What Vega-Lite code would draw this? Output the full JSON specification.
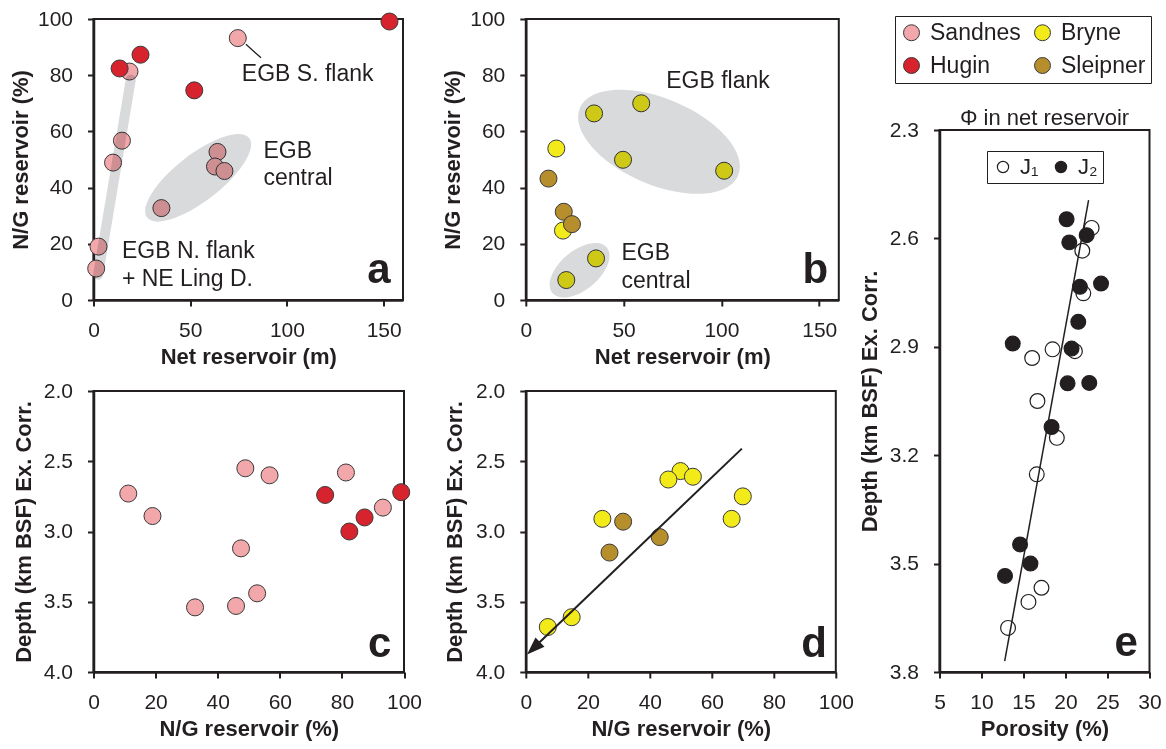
{
 "$schema": "https://vega.github.io/schema/vega-lite/v6.json",
 "padding": {"left": 7.5, "top": 7, "right": 5, "bottom": 5},
 "datasets": {
  "wells": [
   {"group":"Sandnes","net":74.6,"ng":93.2,"depth":2.83},
   {"group":"Sandnes","net":18.6,"ng":81.3,"depth":2.58},
   {"group":"Sandnes","net":14.7,"ng":56.7,"depth":2.60},
   {"group":"Sandnes","net":10.1,"ng":48.9,"depth":2.55},
   {"group":"Sandnes","net":2.6,"ng":19.0,"depth":2.89},
   {"group":"Sandnes","net":1.4,"ng":11.2,"depth":2.73},
   {"group":"Sandnes","net":64.1,"ng":52.7,"depth":3.44},
   {"group":"Sandnes","net":62.8,"ng":47.5,"depth":3.12},
   {"group":"Sandnes","net":67.7,"ng":45.9,"depth":3.53},
   {"group":"Sandnes","net":35.1,"ng":32.7,"depth":3.54},
   {"group":"Hugin","net":153,"ng":99.1,"depth":2.72},
   {"group":"Hugin","net":24.3,"ng":87.3,"depth":2.90},
   {"group":"Hugin","net":13.5,"ng":82.4,"depth":3.00},
   {"group":"Hugin","net":52.1,"ng":74.6,"depth":2.74},
   {"group":"Bryne","net":59.0,"ng":70.0,"depth":2.75},
   {"group":"Bryne","net":34.9,"ng":66.4,"depth":2.91},
   {"group":"Bryne","net":49.7,"ng":49.9,"depth":2.57},
   {"group":"Bryne","net":101.4,"ng":46.0,"depth":2.63},
   {"group":"Bryne","net":15.6,"ng":53.9,"depth":2.61},
   {"group":"Bryne","net":19.0,"ng":24.7,"depth":2.91},
   {"group":"Bryne","net":35.9,"ng":14.8,"depth":3.61},
   {"group":"Bryne","net":20.7,"ng":7.1,"depth":3.68},
   {"group":"Sleipner","net":11.6,"ng":43.2,"depth":3.04},
   {"group":"Sleipner","net":19.4,"ng":31.4,"depth":2.93},
   {"group":"Sleipner","net":23.6,"ng":27.0,"depth":3.15}
  ],
  "porosity": [
   {"unit":"J1","phi":23.11,"depth":2.571},
   {"unit":"J1","phi":22.0,"depth":2.634},
   {"unit":"J1","phi":22.12,"depth":2.752},
   {"unit":"J1","phi":21.12,"depth":2.912},
   {"unit":"J1","phi":18.46,"depth":2.907},
   {"unit":"J1","phi":16.03,"depth":2.931},
   {"unit":"J1","phi":16.66,"depth":3.050},
   {"unit":"J1","phi":18.97,"depth":3.152},
   {"unit":"J1","phi":16.58,"depth":3.253},
   {"unit":"J1","phi":17.14,"depth":3.567},
   {"unit":"J1","phi":15.59,"depth":3.606},
   {"unit":"J1","phi":13.16,"depth":3.678},
   {"unit":"J2","phi":20.13,"depth":2.547},
   {"unit":"J2","phi":20.45,"depth":2.611},
   {"unit":"J2","phi":22.52,"depth":2.591},
   {"unit":"J2","phi":21.72,"depth":2.734},
   {"unit":"J2","phi":24.23,"depth":2.725},
   {"unit":"J2","phi":21.52,"depth":2.831},
   {"unit":"J2","phi":13.72,"depth":2.891},
   {"unit":"J2","phi":20.72,"depth":2.905},
   {"unit":"J2","phi":20.25,"depth":3.001},
   {"unit":"J2","phi":22.83,"depth":3.000},
   {"unit":"J2","phi":18.34,"depth":3.122},
   {"unit":"J2","phi":14.59,"depth":3.447},
   {"unit":"J2","phi":15.83,"depth":3.500},
   {"unit":"J2","phi":12.80,"depth":3.534}
  ]
 },
 "spacing": 2,
 "hconcat": [
  {
   "spacing": 16.3,
   "hconcat": [
    {
     "spacing": 11,
     "vconcat": [
      {
       "width": 309.5, "height": 281,
       "data": {"name": "wells"},
       "encoding": {
        "x": {"field": "net", "type": "quantitative", "scale": {"domain": [0, 160], "nice": false, "zero": false}, "axis": {"values": [0, 50, 100, 150], "title": "Net reservoir (m)"}},
        "y": {"field": "ng", "type": "quantitative", "scale": {"domain": [0, 100], "nice": false, "zero": false}, "axis": {"values": [0, 20, 40, 60, 80, 100], "title": "N/G reservoir (%)", "titlePadding": 5}}
       },
       "layer": [
        {
         "transform": [{"filter": "datum.group === 'Sandnes' || datum.group === 'Hugin'"}],
         "mark": {"type": "point", "filled": true, "size": 290, "opacity": 1, "stroke": "#3a3a3a", "strokeWidth": 1},
         "encoding": {
          "color": {"field": "group", "type": "nominal",
           "scale": {"domain": ["Sandnes", "Hugin", "Bryne", "Sleipner"], "range": ["#F2A7AA", "#D6232E", "#F3EA1A", "#B68E2C"]},
           "legend": {"orient": "none", "legendX": 801.5, "legendY": -3, "columns": 2, "title": null, "strokeColor": "#231F20", "fillColor": "white", "padding": 5, "symbolType": "circle", "symbolSize": 255, "symbolStrokeWidth": 1, "symbolStrokeColor": "#3a3a3a", "symbolOpacity": 1, "labelFont": "Liberation Sans", "labelFontSize": 23, "labelColor": "#231F20", "labelOffset": 7, "rowPadding": 9, "columnPadding": 10}}
         }
        },
        {
         "data": {"values": [{"net": 2.4, "ng": 9, "net2": 19.3, "ng2": 78.5}]},
         "mark": {"type": "rule", "strokeWidth": 10, "strokeCap": "round", "color": "#D9DADC", "blend": "multiply"},
         "encoding": {"x2": {"field": "net2"}, "y2": {"field": "ng2"}}
        },
        {
         "data": {"values": [{"net": 54.1, "ng": 43.5}]},
         "mark": {"type": "point", "shape": "M-1,0A1,0.36,0,1,1,1,0A1,0.36,0,1,1,-1,0Z", "size": 16744, "angle": -38, "filled": true, "color": "#D9DADC", "opacity": 1, "blend": "multiply"}
        },
        {
         "data": {"values": [{"net": 78.8, "ng": 91.0, "net2": 86.6, "ng2": 86.2}]},
         "mark": {"type": "rule", "color": "#231F20", "strokeWidth": 1.3},
         "encoding": {"x2": {"field": "net2"}, "y2": {"field": "ng2"}}
        },
        {
         "data": {"values": [
          {"net": 76.7, "ng": 77.9, "label": "EGB S. flank"},
          {"net": 87.9, "ng": 50.6, "label": "EGB"},
          {"net": 87.9, "ng": 40.8, "label": "central"},
          {"net": 14.7, "ng": 15.1, "label": "EGB N. flank"},
          {"net": 14.7, "ng": 5.0, "label": "+ NE Ling D."}
         ]},
         "mark": {"type": "text", "align": "left", "baseline": "alphabetic", "fontSize": 23},
         "encoding": {"text": {"field": "label"}}
        },
        {
         "data": {"values": [{"net": 153.6, "ng": 6.2, "label": "a"}]},
         "mark": {"type": "text", "align": "right", "baseline": "alphabetic", "fontSize": 42, "fontWeight": "bold"},
         "encoding": {"text": {"field": "label"}}
        }
       ]
      },
      {
       "width": 310.5, "height": 281,
       "data": {"name": "wells"},
       "encoding": {
        "x": {"field": "ng", "type": "quantitative", "scale": {"domain": [0, 100], "nice": false, "zero": false}, "axis": {"values": [0, 20, 40, 60, 80, 100], "title": "N/G reservoir (%)"}},
        "y": {"field": "depth", "type": "quantitative", "scale": {"domain": [2, 4], "nice": false, "zero": false, "reverse": true}, "axis": {"values": [2, 2.5, 3, 3.5, 4], "format": ".1f", "title": "Depth (km BSF) Ex. Corr.", "titlePadding": 8}}
       },
       "layer": [
        {
         "transform": [{"filter": "datum.group === 'Sandnes' || datum.group === 'Hugin'"}],
         "mark": {"type": "point", "filled": true, "size": 290, "opacity": 1, "stroke": "#3a3a3a", "strokeWidth": 1},
         "encoding": {"color": {"field": "group", "type": "nominal", "legend": null}}
        },
        {
         "data": {"values": [{"ng": 95.9, "depth": 3.89, "label": "c"}]},
         "mark": {"type": "text", "align": "right", "baseline": "alphabetic", "fontSize": 42, "fontWeight": "bold"},
         "encoding": {"text": {"field": "label"}}
        }
       ]
      }
     ]
    },
    {
     "spacing": 11,
     "vconcat": [
      {
       "width": 313, "height": 281,
       "data": {"name": "wells"},
       "encoding": {
        "x": {"field": "net", "type": "quantitative", "scale": {"domain": [0, 160], "nice": false, "zero": false}, "axis": {"values": [0, 50, 100, 150], "title": "Net reservoir (m)"}},
        "y": {"field": "ng", "type": "quantitative", "scale": {"domain": [0, 100], "nice": false, "zero": false}, "axis": {"values": [0, 20, 40, 60, 80, 100], "title": "N/G reservoir (%)", "titlePadding": 5}}
       },
       "layer": [
        {
         "transform": [{"filter": "datum.group === 'Bryne' || datum.group === 'Sleipner'"}],
         "mark": {"type": "point", "filled": true, "size": 290, "opacity": 1, "stroke": "#3a3a3a", "strokeWidth": 1},
         "encoding": {"color": {"field": "group", "type": "nominal", "legend": null}}
        },
        {
         "data": {"values": [{"net": 68.1, "ng": 56.3}]},
         "mark": {"type": "point", "shape": "M-1,0A1,0.5,0,1,1,1,0A1,0.5,0,1,1,-1,0Z", "size": 29584, "angle": 23, "filled": true, "color": "#D9DADC", "opacity": 1, "blend": "multiply"}
        },
        {
         "data": {"values": [{"net": 27.5, "ng": 10.6}]},
         "mark": {"type": "point", "shape": "M-1,0A1,0.55,0,1,1,1,0A1,0.55,0,1,1,-1,0Z", "size": 5041, "angle": -40, "filled": true, "color": "#D9DADC", "opacity": 1, "blend": "multiply"}
        },
        {
         "data": {"values": [
          {"net": 71.8, "ng": 75.6, "label": "EGB flank"},
          {"net": 48.9, "ng": 14.1, "label": "EGB"},
          {"net": 48.9, "ng": 4.4, "label": "central"}
         ]},
         "mark": {"type": "text", "align": "left", "baseline": "alphabetic", "fontSize": 23},
         "encoding": {"text": {"field": "label"}}
        },
        {
         "data": {"values": [{"net": 154.6, "ng": 6.2, "label": "b"}]},
         "mark": {"type": "text", "align": "right", "baseline": "alphabetic", "fontSize": 42, "fontWeight": "bold"},
         "encoding": {"text": {"field": "label"}}
        }
       ]
      },
      {
       "width": 310, "height": 281,
       "data": {"name": "wells"},
       "encoding": {
        "x": {"field": "ng", "type": "quantitative", "scale": {"domain": [0, 100], "nice": false, "zero": false}, "axis": {"values": [0, 20, 40, 60, 80, 100], "title": "N/G reservoir (%)"}},
        "y": {"field": "depth", "type": "quantitative", "scale": {"domain": [2, 4], "nice": false, "zero": false, "reverse": true}, "axis": {"values": [2, 2.5, 3, 3.5, 4], "format": ".1f", "title": "Depth (km BSF) Ex. Corr.", "titlePadding": 9.5}}
       },
       "layer": [
        {
         "transform": [{"filter": "datum.group === 'Bryne' || datum.group === 'Sleipner'"}],
         "mark": {"type": "point", "filled": true, "size": 290, "opacity": 1, "stroke": "#3a3a3a", "strokeWidth": 1},
         "encoding": {"color": {"field": "group", "type": "nominal", "legend": null}}
        },
        {
         "data": {"values": [{"ng": 69.7, "depth": 2.41, "ng2": 1.5, "depth2": 3.85}]},
         "mark": {"type": "rule", "color": "#231F20", "strokeWidth": 2},
         "encoding": {"x2": {"field": "ng2"}, "y2": {"field": "depth2"}}
        },
        {
         "data": {"values": [{"ng": 0.4, "depth": 3.876}]},
         "mark": {"type": "point", "shape": "M0,0L-0.36,1L0.36,1Z", "size": 1296, "angle": 226, "filled": true, "color": "#231F20", "opacity": 1}
        },
        {
         "data": {"values": [{"ng": 97.1, "depth": 3.895, "label": "d"}]},
         "mark": {"type": "text", "align": "right", "baseline": "alphabetic", "fontSize": 42, "fontWeight": "bold"},
         "encoding": {"text": {"field": "label"}}
        }
       ]
      }
     ]
    }
   ]
  },
  {
   "spacing": 27,
   "vconcat": [
    {
     "width": 10, "height": 60,
     "data": {"values": []},
     "mark": "point",
     "view": {"stroke": null}
    },
    {
     "width": 210, "height": 542,
     "title": {"text": "Φ in net reservoir", "anchor": "middle", "fontSize": 22, "fontWeight": "normal", "offset": -11},
     "data": {"name": "porosity"},
     "encoding": {
      "x": {"field": "phi", "type": "quantitative", "scale": {"domain": [5, 30], "nice": false, "zero": false}, "axis": {"values": [5, 10, 15, 20, 25, 30], "title": "Porosity (%)"}},
      "y": {"field": "depth", "type": "quantitative", "scale": {"domain": [2.3, 3.8], "nice": false, "zero": false, "reverse": true}, "axis": {"values": [2.3, 2.6, 2.9, 3.2, 3.5, 3.8], "format": ".1f", "title": "Depth (km BSF) Ex. Corr.", "titlePadding": 8}}
     },
     "layer": [
      {
       "mark": {"type": "point", "filled": true, "size": 219, "opacity": 1, "stroke": "#231F20", "strokeWidth": 1.2},
       "encoding": {
        "fill": {"field": "unit", "type": "nominal",
         "scale": {"domain": ["J1", "J2"], "range": ["white", "#231F20"]},
         "legend": {"orient": "none", "legendX": 893.5, "legendY": 132, "direction": "horizontal", "columns": 2, "title": null, "strokeColor": "#231F20", "fillColor": "white", "padding": 5, "symbolType": "circle", "symbolSize": 126, "symbolStrokeColor": "#231F20", "symbolStrokeWidth": 1.2, "symbolOpacity": 1, "labelFont": "Liberation Sans", "labelFontSize": 22, "labelColor": "#231F20", "labelOffset": 6, "columnPadding": 11, "labelExpr": "datum.label === 'J1' ? 'J₁' : 'J₂'"}}
       }
      },
      {
       "data": {"values": [{"phi": 22.75, "depth": 2.494, "phi2": 12.76, "depth2": 3.77}]},
       "mark": {"type": "rule", "color": "#231F20", "strokeWidth": 1.5},
       "encoding": {"x2": {"field": "phi2"}, "y2": {"field": "depth2"}}
      },
      {
       "data": {"values": [{"phi": 28.6, "depth": 3.757, "label": "e"}]},
       "mark": {"type": "text", "align": "right", "baseline": "alphabetic", "fontSize": 42, "fontWeight": "bold"},
       "encoding": {"text": {"field": "label"}}
      }
     ]
    }
   ]
  }
 ],
 "config": {
  "font": "Liberation Sans",
  "view": {"stroke": "#231F20", "strokeWidth": 2},
  "axis": {"grid": false, "labelFlush": false, "labelOverlap": false, "domainColor": "#231F20", "domainWidth": 2.5, "tickColor": "#231F20", "tickWidth": 2, "tickSize": 6, "labelFont": "Liberation Sans", "labelFontSize": 21, "labelColor": "#231F20", "titleFont": "Liberation Sans", "titleFontSize": 22, "titleFontWeight": "bold", "titleColor": "#231F20"},
  "axisX": {"labelPadding": 13, "titlePadding": 6},
  "axisY": {"labelPadding": 15},
  "text": {"font": "Liberation Sans", "color": "#231F20"},
  "title": {"font": "Liberation Sans", "color": "#231F20"}
 }
}
